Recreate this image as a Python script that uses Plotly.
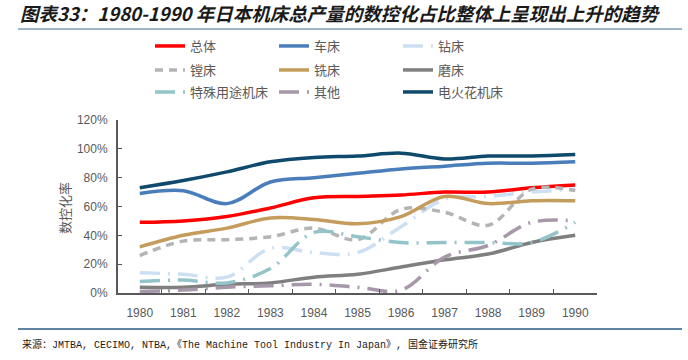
import plotly.graph_objects as go

years = ['1980', '1981', '1982', '1983', '1984', '1985', '1986', '1987', '1988', '1989', '1990']

total = [49, 50, 53, 59, 66, 67, 68, 70, 70, 73, 75]          # 总体
lathe = [69, 71, 62, 77, 80, 83, 86, 88, 90, 90, 91]          # 车床
drill = [14, 13, 11, 31, 28, 28, 46, 65, 67, 70, 72]          # 钻床
boring = [26, 36, 37, 39, 45, 37, 58, 56, 47, 72, 71]         # 镗床
milling = [32, 40, 45, 52, 51, 48, 53, 67, 62, 64, 64]        # 铣床
grinding = [4, 4, 6, 7, 11, 13, 18, 23, 27, 35, 40]           # 磨床
special = [8, 9, 7, 17, 42, 39, 35, 35, 35, 35, 49]           # 特殊用途机床
other = [1, 2, 4, 5, 6, 4, 2, 25, 33, 49, 50]                 # 其他
edm = [73, 78, 84, 91, 94, 95, 97, 93, 95, 95, 96]            # 电火花机床

series = [
    ('总体', total, '#ff0000', 'solid', 'legend'),
    ('车床', lathe, '#4a7ebb', 'solid', 'legend'),
    ('钻床', drill, '#cddff2', '20px,8px,2px,8px', 'legend'),
    ('镗床', boring, '#b4b4b4', '8px,6px', 'legend2'),
    ('铣床', milling, '#c49c5c', 'solid', 'legend2'),
    ('磨床', grinding, '#7f7f7f', 'solid', 'legend2'),
    ('特殊用途机床', special, '#93c4c9', '20px,8px,2px,8px', 'legend3'),
    ('其他', other, '#a797aa', '20px,8px,2px,8px', 'legend3'),
    ('电火花机床', edm, '#0f4a6c', 'solid', 'legend3'),
]

W, H = 688, 360
PL, PR, PT, PB = 118, 597, 120, 293

fig = go.Figure()
for name, vals, color, dash, lg in series:
    fig.add_trace(go.Scatter(
        x=years, y=vals, name=name, mode='lines', legend=lg,
        line=dict(color=color, width=3.5, dash=dash, shape='spline', smoothing=1.0),
    ))

def px_x(px):
    return (px - PL) / (PR - PL)

def px_y(py):
    return (PB - py) / (PB - PT)

legend_common = dict(
    orientation='h', entrywidth=79, entrywidthmode='pixels',
    xref='container', yref='container', xanchor='left', yanchor='middle',
    font=dict(family='Noto Sans CJK SC', size=13, color='#595959'),
    bgcolor='rgba(0,0,0,0)', borderwidth=0, itemclick=False,
)
lx = 150 / W
fig.update_layout(
    legend=dict(x=lx, y=1 - 46 / H, **legend_common),
    legend2=dict(x=lx, y=1 - 70 / H, **legend_common),
    legend3=dict(x=lx, y=1 - 92 / H, **legend_common),
)

fig.update_layout(
    width=W, height=H,
    margin=dict(l=PL, r=W - PR, t=PT, b=H - PB, autoexpand=False),
    paper_bgcolor='white', plot_bgcolor='white',
    font=dict(family='Liberation Sans, Noto Sans CJK SC', color='#595959', size=12),
    title=dict(
        text='图表33：1980-1990 年日本机床总产量的数控化占比整体上呈现出上升的趋势',
        xref='container', yref='container', x=20 / W, y=1 - 15 / H,
        xanchor='left', yanchor='middle',
        font=dict(family='Noto Sans CJK SC', size=18.5, color='#1a1a1a', weight='bold', style='italic'),
    ),
    xaxis=dict(
        type='category', range=[-0.5, 10.5], tickson='boundaries',
        ticks='inside', ticklen=4, tickcolor='#595959', tickwidth=1,
        showline=True, linecolor='#595959', linewidth=1.5,
        showgrid=False, zeroline=False, ticklabelstandoff=8, automargin=False,
        tickfont=dict(size=12, color='#595959'),
    ),
    yaxis=dict(
        range=[0, 120], dtick=20, ticksuffix='%',
        ticks='inside', ticklen=4, tickcolor='#595959', tickwidth=1,
        showline=True, linecolor='#595959', linewidth=2,
        showgrid=False, zeroline=False, ticklabelstandoff=6, automargin=False,
        tickfont=dict(size=12, color='#595959'),
    ),
    annotations=[
        dict(text='数控化率', x=px_x(64), y=px_y(208), xref='paper', yref='paper',
             showarrow=False, textangle=-90, xanchor='center', yanchor='middle',
             font=dict(family='Noto Sans CJK SC', size=13, color='#595959')),
        dict(text='来源：JMTBA, CECIMO, NTBA,《The Machine Tool Industry In Japan》, 国金证券研究所',
             x=px_x(20), y=px_y(344), xref='paper', yref='paper', showarrow=False,
             xanchor='left', yanchor='middle',
             font=dict(family='Liberation Mono, Noto Sans CJK SC', size=10, color='#1a1a1a')),
    ],
    shapes=[
        dict(type='line', xref='paper', yref='paper', x0=px_x(18), x1=px_x(682),
             y0=px_y(29), y1=px_y(29), line=dict(color='#7f9bb8', width=1.5)),
        dict(type='line', xref='paper', yref='paper', x0=px_x(18), x1=px_x(682),
             y0=px_y(329), y1=px_y(329), line=dict(color='#2a5a85', width=1.5)),
    ],
)

fig.write_html('out.html', config={'displayModeBar': False},
               post_script="document.body.style.margin='0';document.body.style.overflow='hidden';")
